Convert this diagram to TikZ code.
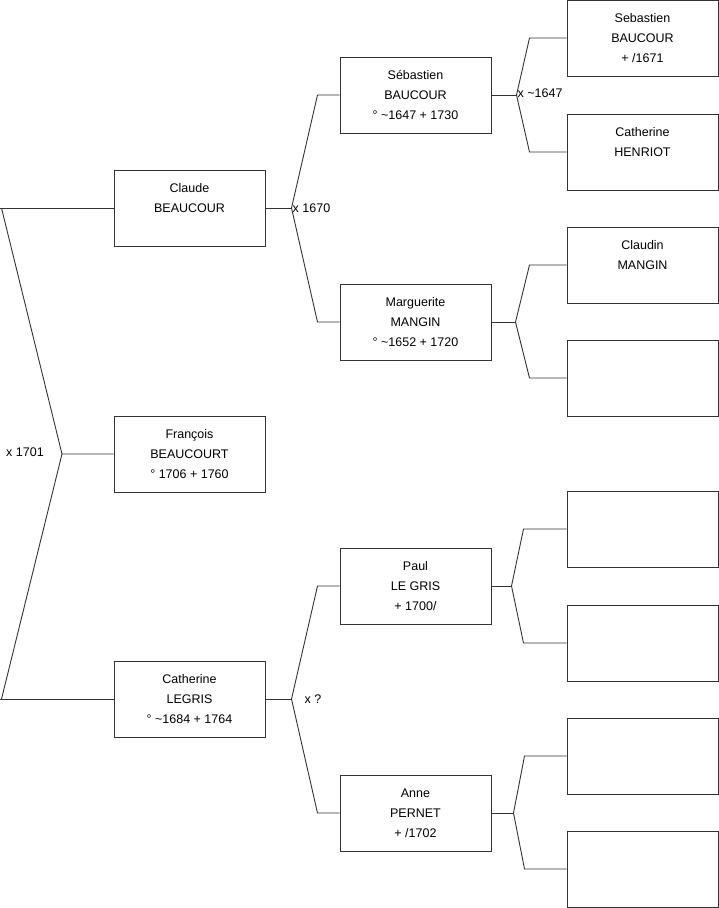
\documentclass[tikz,border=0pt]{standalone}
\usepackage{fontspec}
\setmainfont{Liberation Sans}
\usetikzlibrary{calc}
\definecolor{linegray}{HTML}{333333}
\tikzset{
  person/.style={draw=linegray,line width=1pt,minimum width=151pt,minimum height=76pt,inner sep=0pt,align=center,font=\fontsize{12.5}{20}\selectfont},
  link/.style={draw=linegray,line width=0.9pt},
  union/.style={font=\fontsize{12.5}{15}\selectfont,inner sep=1pt,anchor=west}
}
\newcommand{\who}[3]{\strut #1\\\strut #2\\\strut #3}

\begin{document}
\begin{tikzpicture}[x=1pt,y=-1pt]
\path[use as bounding box] (0,0) rectangle (719,908);
% generation 1 and 2
\node[person] (claude) at (189.5,208) {\who{Claude}{BEAUCOUR}{}};
\node[person] (francois) at (189.5,454) {\who{François}{BEAUCOURT}{° 1706 + 1760}};
\node[person] (catherine) at (189.5,699) {\who{Catherine}{LEGRIS}{° \textasciitilde1684 + 1764}};
% generation 3
\node[person] (sebastien) at (415.5,95) {\who{Sébastien}{BAUCOUR}{° \textasciitilde1647 + 1730}};
\node[person] (marguerite) at (415.5,322) {\who{Marguerite}{MANGIN}{° \textasciitilde1652 + 1720}};
\node[person] (paul) at (415.5,586) {\who{Paul}{LE GRIS}{+ 1700/}};
\node[person] (anne) at (415.5,813) {\who{Anne}{PERNET}{+ /1702}};
% generation 4
\node[person] (sebastienb) at (642.5,38) {\who{Sebastien}{BAUCOUR}{+ /1671}};
\node[person] (henriot) at (642.5,152) {\who{Catherine}{HENRIOT}{}};
\node[person] (claudin) at (642.5,265) {\who{Claudin}{MANGIN}{}};
\node[person] (mangin2) at (642.5,378) {};
\node[person] (legris3) at (642.5,529) {};
\node[person] (legris4) at (642.5,643) {};
\node[person] (pernet3) at (642.5,756) {};
\node[person] (pernet4) at (642.5,869) {};

% unions
\coordinate (m0) at (62,454);
\coordinate (m1) at ($(claude.east)+(26,0)$);
\coordinate (m2) at ($(catherine.east)+(26,0)$);
\coordinate (m3) at ($(sebastien.east)+(25,0)$);
\coordinate (m4) at ($(marguerite.east)+(24,0)$);
\coordinate (m5) at ($(paul.east)+(20,0)$);
\coordinate (m6) at ($(anne.east)+(22,0)$);

\draw[link] (claude.west) -- ++(-114,0);
\draw[link] ($(claude.west)+(-112,0)$) -- (m0) -- (francois.west);
\draw[link] (catherine.west) -- ++(-114,0);
\draw[link] ($(catherine.west)+(-112,0)$) -- (m0);

\draw[link] (claude.east) -- (m1);
\draw[link] (sebastien.west) -- ++(-22,0) -- (m1) -- ($(marguerite.west)+(-22,0)$) -- (marguerite.west);
\draw[link] (catherine.east) -- (m2);
\draw[link] (paul.west) -- ++(-22,0) -- (m2) -- ($(anne.west)+(-22,0)$) -- (anne.west);

\draw[link] (sebastien.east) -- (m3);
\draw[link] (sebastienb.west) -- ++(-37,0) -- (m3) -- ($(henriot.west)+(-37,0)$) -- (henriot.west);
\draw[link] (marguerite.east) -- (m4);
\draw[link] (claudin.west) -- ++(-37,0) -- (m4) -- ($(mangin2.west)+(-37,0)$) -- (mangin2.west);
\draw[link] (paul.east) -- (m5);
\draw[link] (legris3.west) -- ++(-43,0) -- (m5) -- ($(legris4.west)+(-43,0)$) -- (legris4.west);
\draw[link] (anne.east) -- (m6);
\draw[link] (pernet3.west) -- ++(-42,0) -- (m6) -- ($(pernet4.west)+(-42,0)$) -- (pernet4.west);

\node[union] (u0) at (5,452) {x 1701};
\node[union] (u1) at (m1) {x 1670};
\node[union] (u2) at ($(m2)+(12,0)$) {x ?};
\node[union] (u3) at ($(m3)+(0,-2)$) {x \textasciitilde1647};
\end{tikzpicture}
\end{document}
